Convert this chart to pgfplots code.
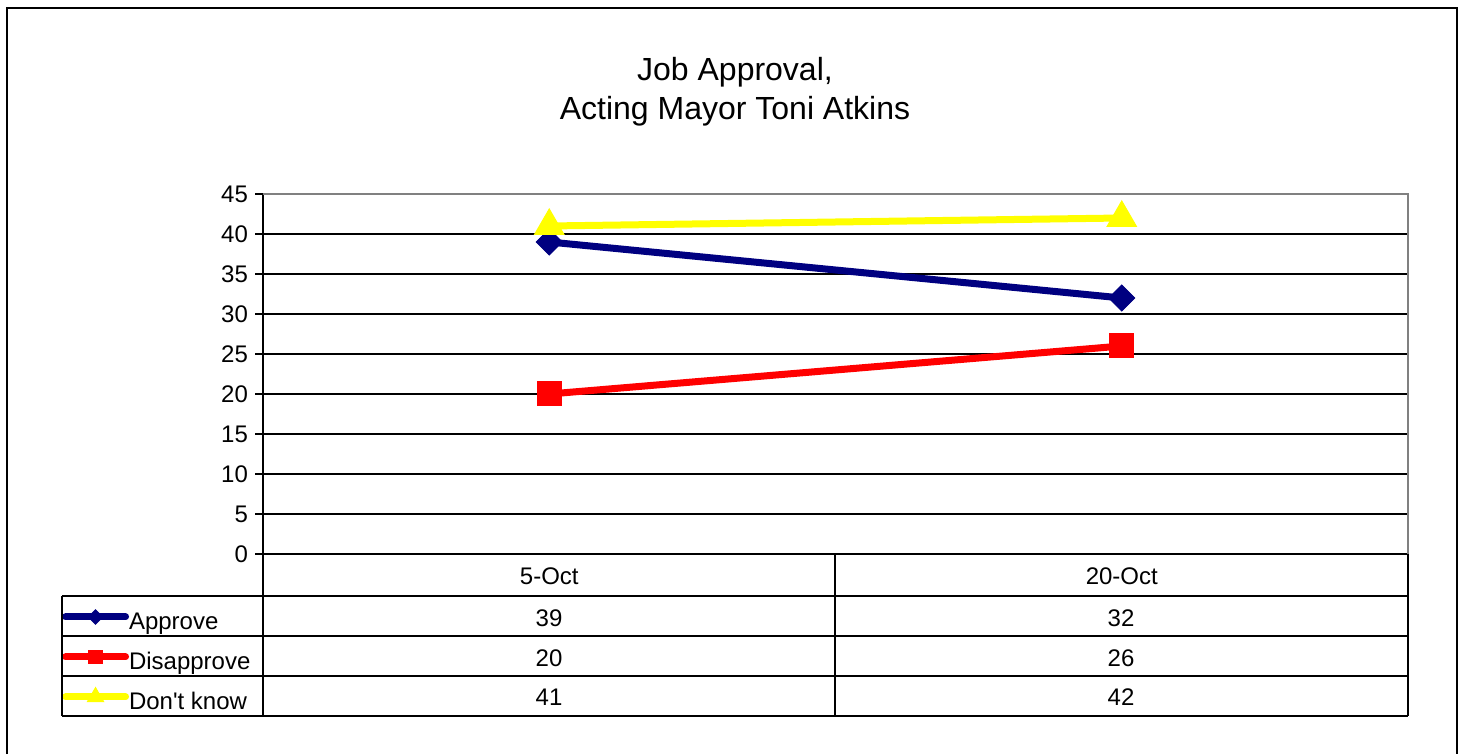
\documentclass[border=0pt]{standalone}
\usepackage{fontspec}
\setmainfont{Liberation Sans}
\usepackage{pgfplots}
\pgfplotsset{compat=1.18}
\definecolor{navyc}{RGB}{0,0,128}
\definecolor{grayc}{RGB}{128,128,128}
\definecolor{yel}{RGB}{255,255,0}
\begin{document}
\begin{tikzpicture}
\useasboundingbox (0,0) rectangle (732.5pt,377pt);
\begin{axis}[
  at={(131.5pt,100pt)}, anchor=south west,
  scale only axis, width=572.5pt, height=180pt,
  xmin=-0.5, xmax=1.5, ymin=0, ymax=45,
  xtick={0,1}, xticklabels={5-Oct,20-Oct},
  x tick style={draw=none},
  xticklabel style={anchor=center, yshift=-7pt},
  ytick={0,5,...,45},
  axis x line*=bottom, axis y line*=left,
  axis line style={black, line width=1.25pt},
  ymajorgrids, grid style={black, line width=0.6pt},
  tick align=outside, major tick length=4pt,
  y tick style={black, line width=1pt},
  tick label style={font=\fontsize{12}{14}\selectfont},
  /pgf/number format/assume math mode=true,
  clip=false,
  legend cell align=left,
  legend style={at={(axis description cs:-0.1755,-0.1444)}, anchor=north west,
    draw=none, fill=none, inner sep=0pt, outer sep=0pt, row sep=5pt, column sep=0pt,
    nodes={inner sep=0pt, text height=12pt, text depth=3pt},
    font=\fontsize{12}{14}\selectfont},
  legend image code/.code={%
    \draw[line cap=round, /tikz/every mark/.append style={scale=0.55}, mark repeat=2, mark phase=2]
      plot coordinates {(0pt,2pt) (15pt,2pt) (30pt,2pt)};},
]
\addplot[navyc, line width=3.5pt, mark=square*, mark size=4.6pt,
  mark options={rotate=45, fill=navyc, draw=navyc, line width=0.5pt}]
  coordinates {(0,39) (1,32)};
\addplot[red, line width=3.5pt, mark=square*, mark size=6pt,
  mark options={fill=red, draw=red, line width=0.5pt}]
  coordinates {(0,20) (1,26)};
\addplot[yel, line width=3.5pt, mark=triangle*, mark size=8.5pt,
  mark options={fill=yel, draw=yel, line width=0.5pt}]
  coordinates {(0,41) (1,42)};
\legend{Approve,Disapprove,Don\textquotesingle t know}
\draw[grayc, line width=1pt] (rel axis cs:0,1) -- (rel axis cs:1,1) -- (rel axis cs:1,0);
\end{axis}
\begin{scope}[x=0.5pt, y=-0.5pt, shift={(0pt,377pt)}]
  % outer border
  \draw[black, line width=1.25pt] (7,754) -- (7,8) -- (1457,8) -- (1457,754);
  % title
  \node[align=center, font=\fontsize{16}{19.5}\selectfont] at (735,92)
    {Job Approval,\\Acting Mayor Toni Atkins};
  % data table
  \draw[black, line width=1.4pt] (263,554) -- (263,716);
  \draw[black, line width=1.4pt] (835,554) -- (835,716);
  \draw[black, line width=1.4pt] (1408,554) -- (1408,716);
  \draw[black, line width=1.4pt] (62,596) -- (1408,596);
  \draw[black, line width=1pt] (62,636) -- (1408,636);
  \draw[black, line width=1pt] (62,676) -- (1408,676);
  \draw[black, line width=1.4pt] (62,716) -- (1408,716);
  \draw[black, line width=1.4pt] (62,596) -- (62,716);
  \begin{scope}[every node/.style={font=\fontsize{12}{14}\selectfont}]
    \node at (549,618) {39};
    \node at (1121,618) {32};
    \node at (549,658) {20};
    \node at (1121,658) {26};
    \node at (549,697) {41};
    \node at (1121,697) {42};
  \end{scope}
\end{scope}
\end{tikzpicture}
\end{document}
